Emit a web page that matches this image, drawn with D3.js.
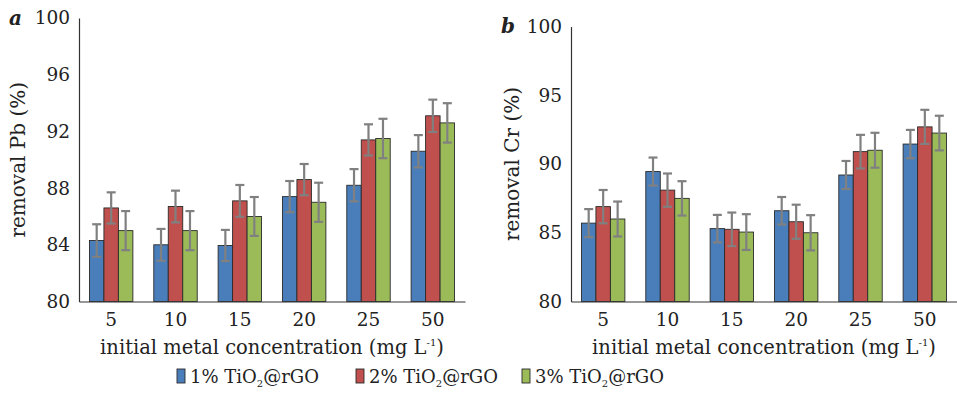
<!DOCTYPE html>
<html><head><meta charset="utf-8">
<script src="https://cdn.jsdelivr.net/npm/d3@7"></script>
<style>body{margin:0;background:#fff}svg{display:block}text{font-family:"DejaVu Serif",serif;fill:#222}</style>
</head><body><svg id="c" width="957" height="393"></svg>
<script>
const categories = ["5","10","15","20","25","50"];
const seriesNames = ["1% TiO", "2% TiO", "3% TiO"];
const colors = ["#4a7ebb","#c0504d","#9bbb59"];
// Panel a: Pb removal
const pb1 = [84.3, 84.0, 83.95, 87.4, 88.2, 90.6];
const pb2 = [86.6, 86.7, 87.1, 88.6, 91.4, 93.1];
const pb3 = [85.0, 85.0, 86.0, 87.0, 91.5, 92.6];
const pbErr1 = [1.15, 1.12, 1.1, 1.1, 1.14, 1.14];
const pbErr2 = [1.1, 1.12, 1.12, 1.1, 1.1, 1.14];
const pbErr3 = [1.38, 1.38, 1.37, 1.38, 1.39, 1.39];
const pbTicks = [80, 84, 88, 92, 96, 100];
// Panel b: Cr removal
const cr1 = [85.7, 89.45, 85.3, 86.6, 89.2, 91.45];
const cr2 = [86.9, 88.1, 85.25, 85.8, 90.9, 92.7];
const cr3 = [86.0, 87.5, 85.05, 85.0, 91.0, 92.25];
const crErr1 = [1.02, 1.02, 1.0, 1.0, 1.02, 1.03];
const crErr2 = [1.21, 1.21, 1.22, 1.24, 1.22, 1.24];
const crErr3 = [1.27, 1.25, 1.3, 1.28, 1.27, 1.26];
const crTicks = [80, 85, 90, 95, 100];

const svg = d3.select("#c");

function panel(cfg){
  const g = svg.append("g");
  const x0 = d3.scaleBand().domain(categories).range([cfg.left, cfg.right]).paddingInner(0.325).paddingOuter(0.1625);
  const x1 = d3.scaleBand().domain([0,1,2]).range([0, x0.bandwidth()]);
  const y = d3.scaleLinear().domain([80,100]).range([cfg.bottom, cfg.top]);
  const series = [cfg.s1, cfg.s2, cfg.s3];
  const errs = [cfg.e1, cfg.e2, cfg.e3];
  series.forEach((s, si) => {
    g.selectAll(null).data(s).enter().append("rect")
      .attr("x", (d,i) => x0(categories[i]) + x1(si))
      .attr("y", d => y(d))
      .attr("width", x1.bandwidth())
      .attr("height", d => y(80) - y(d))
      .attr("fill", colors[si]).attr("stroke", "#2a2a2a").attr("stroke-width", 0.9);
  });
  series.forEach((s, si) => {
    const eg = g.selectAll(null).data(s).enter().append("g")
      .attr("stroke", "#808080").attr("stroke-width", 2.2).attr("fill","none");
    const cx = (d,i) => x0(categories[i]) + x1(si) + x1.bandwidth()/2;
    eg.append("line").attr("x1", cx).attr("x2", cx)
      .attr("y1", (d,i) => y(d + errs[si][i])).attr("y2", (d,i) => y(d - errs[si][i]));
    eg.append("line").attr("x1", (d,i)=>cx(d,i)-4.5).attr("x2", (d,i)=>cx(d,i)+4.5)
      .attr("y1", (d,i) => y(d + errs[si][i])).attr("y2", (d,i) => y(d + errs[si][i]));
    eg.append("line").attr("x1", (d,i)=>cx(d,i)-4.5).attr("x2", (d,i)=>cx(d,i)+4.5)
      .attr("y1", (d,i) => y(d - errs[si][i])).attr("y2", (d,i) => y(d - errs[si][i]));
  });
  const ya = g.append("g").attr("transform", `translate(${cfg.left},0)`)
    .call(d3.axisLeft(y).tickValues(cfg.ticks).tickSize(0).tickPadding(9));
  ya.select(".domain").attr("stroke", "#333").attr("stroke-width", 1.2);
  ya.selectAll("text").attr("font-size", 18.5).attr("font-family", "DejaVu Serif").attr("fill","#222");
  const xa = g.append("g").attr("transform", `translate(0,${cfg.bottom})`)
    .call(d3.axisBottom(x0).tickSize(0).tickPadding(11));
  xa.select(".domain").attr("stroke", "#333").attr("stroke-width", 1.2);
  xa.selectAll("text").attr("font-size", 18.5).attr("font-family", "DejaVu Serif").attr("fill","#222");
  const xt = g.append("text").attr("x", (cfg.left+cfg.right)/2).attr("y", 354)
    .attr("text-anchor","middle").attr("font-size", 19.5);
  xt.append("tspan").text("initial metal concentration (mg L");
  xt.append("tspan").text("-1").attr("font-size", 10).attr("dy", -8);
  xt.append("tspan").text(")").attr("dy", 8);
  g.append("text").attr("transform", `translate(${cfg.ylabX},${(cfg.top+cfg.bottom)/2}) rotate(-90)`)
    .attr("text-anchor","middle").attr("font-size", 20).text(cfg.ylab);
  g.append("text").attr("x", cfg.tagX).attr("y", cfg.tagY).attr("font-size", 20)
    .attr("font-weight","bold").attr("font-style","italic").text(cfg.tag);
}

panel({left:79, right:465, top:18, bottom:301.5, s1:pb1, s2:pb2, s3:pb3, e1:pbErr1, e2:pbErr2, e3:pbErr3,
  ticks:pbTicks, ylab:"removal Pb (%)", ylabX:25, tag:"a", tagX:9, tagY:25});
panel({left:571, right:957, top:26.5, bottom:301.5, s1:cr1, s2:cr2, s3:cr3, e1:crErr1, e2:crErr2, e3:crErr3,
  ticks:crTicks, ylab:"removal Cr (%)", ylabX:519, tag:"b", tagX:501, tagY:33});

const legX = [177, 356, 522];
const lg = svg.append("g");
seriesNames.forEach((n, i) => {
  lg.append("rect").attr("x", legX[i]).attr("y", 369).attr("width", 8).attr("height", 14)
    .attr("fill", colors[i]).attr("stroke", "#2a2a2a").attr("stroke-width", 0.9);
  const t = lg.append("text").attr("x", legX[i] + 13).attr("y", 383).attr("font-size", 18);
  t.append("tspan").text(n);
  t.append("tspan").text("2").attr("font-size", 10).attr("dy", 4);
  t.append("tspan").text("@rGO").attr("dy", -4);
});
</script></body></html>
